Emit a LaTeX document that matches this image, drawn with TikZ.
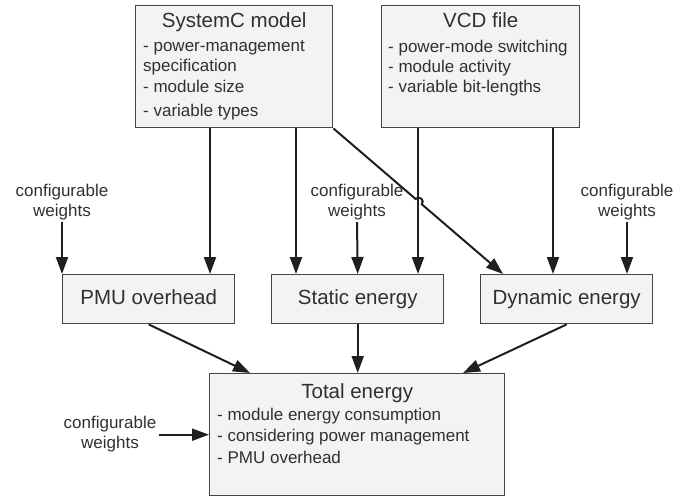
\documentclass[tikz,border=0pt]{standalone}
\usepackage{fontspec}
\setmainfont{Liberation Sans}
\usetikzlibrary{arrows.meta,calc}
\definecolor{boxfill}{HTML}{F2F3F3}
\definecolor{boxline}{HTML}{454545}
\definecolor{txt}{HTML}{303030}
\begin{document}
\begin{tikzpicture}[x=1pt,y=-1pt,
  box/.style={draw=boxline, fill=boxfill, line width=1.4pt, inner sep=0pt},
  smallbox/.style={box, minimum width=172pt, minimum height=49pt,
    font=\fontsize{20.5}{24}\selectfont, text=txt, text height=15pt, text depth=4pt},
  bigtitle/.style={font=\fontsize{20.5}{24}\selectfont, text=txt, inner sep=0pt, anchor=base},
  item/.style={font=\fontsize{17}{20}\selectfont, text=txt, inner sep=0pt, anchor=base west},
  weight/.style={font=\fontsize{17}{20}\selectfont, text=txt, inner sep=2pt, align=center},
  arr/.style={-{Triangle[length=17pt,width=12pt]}, line width=2pt, draw=black!88}
]
\useasboundingbox (0,0) rectangle (695,497);

% source boxes
\node[box, minimum width=197pt, minimum height=122pt, anchor=north west] (sc) at (135,5) {};
\node[bigtitle] (sct) at ($(sc.north)+(0,23)$) {SystemC model};
\node[item] (sc1) at ($(sc.north west)+(8,47)$) {- power-management};
\node[item] (sc2) at ($(sc.north west)+(8,67)$) {specification};
\node[item] (sc3) at ($(sc.north west)+(8,88)$) {- module size};
\node[item] (sc4) at ($(sc.north west)+(8,112)$) {- variable types};

\node[box, minimum width=198pt, minimum height=122pt, anchor=north west] (vcd) at (381,5) {};
\node[bigtitle] (vcdt) at ($(vcd.north)+(0,23)$) {VCD file};
\node[item] (vcd1) at ($(vcd.north west)+(7,48)$) {- power-mode switching};
\node[item] (vcd2) at ($(vcd.north west)+(7,68)$) {- module activity};
\node[item] (vcd3) at ($(vcd.north west)+(7,88)$) {- variable bit-lengths};

% middle boxes
\node[smallbox, anchor=north west] (pmu) at (62,274) {PMU overhead};
\node[smallbox, anchor=north west] (stat) at (271,274) {Static energy};
\node[smallbox, anchor=north west] (dyn) at (480,274) {Dynamic energy};

% total box
\node[box, minimum width=295pt, minimum height=122pt, anchor=north west] (tot) at (209,373) {};
\node[bigtitle] (tott) at ($(tot.north)+(0,25)$) {Total energy};
\node[item] (tot1) at ($(tot.north west)+(8,47)$) {- module energy consumption};
\node[item] (tot2) at ($(tot.north west)+(8,68)$) {- considering power management};
\node[item] (tot3) at ($(tot.north west)+(8,90)$) {- PMU overhead};

% weights labels
\node[weight] (w1) at (62,202) {configurable\\weights};
\node[weight] (w2) at (357,202) {configurable\\weights};
\node[weight] (w3) at (627,202) {configurable\\weights};
\node[weight] (w4) at (110,434) {configurable\\weights};

% arrows into middle boxes
\draw[arr] (w1.south) -- (pmu.north west);
\draw[arr] ($(sc.south west)+(75,0)$) -- ($(pmu.north west)+(148,0)$);
\draw[arr] ($(sc.south west)+(161,0)$) -- ($(stat.north west)+(25,0)$);
\draw[arr] (w2.south) -- (stat.north);
\draw[arr] ($(vcd.south west)+(37,0)$) -- ($(stat.north west)+(147,0)$);
\draw[arr] ($(vcd.south west)+(172,0)$) -- ($(dyn.north west)+(73,0)$);
\draw[arr] (w3.south) -- ($(dyn.north west)+(147,0)$);

% diagonal with hop
\coordinate (dynin) at ($(dyn.north west)+(23,0)$);
\coordinate (hx) at ($(sc.south east)!0.5029!(dynin)$);
\coordinate (hp) at ($(hx)!4pt!(sc.south east)$);
\draw[arr] (sc.south east) -- (hp) arc[start angle=139.3, end angle=-40.7, radius=4pt] -- (dynin);

% arrows into total
\draw[arr] (pmu.south) -- ($(tot.north west)+(41,0)$);
\draw[arr] (stat.south) -- (stat.south |- tot.north);
\draw[arr] (dyn.south) -- ($(tot.north west)+(254,0)$);
\draw[arr] (w4.east |- tot.west) -- (tot.west);
\end{tikzpicture}
\end{document}
